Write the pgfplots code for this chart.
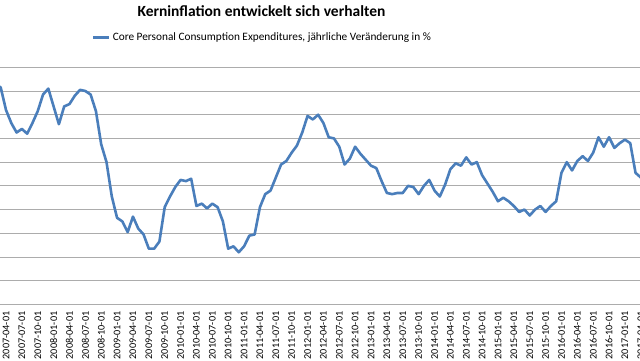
\documentclass[border=0pt]{standalone}
\usepackage{pgfplots}
\usepackage{pgfplotstable}
\pgfplotsset{compat=1.18}
\usepackage{fontspec}
\setmainfont{Carlito}
\definecolor{pceblue}{RGB}{74,126,187}
\definecolor{gridgray}{RGB}{172,172,172}
\pgfplotstableread{
m v
-2 2.46
-1 2.43
0 2.24
1 2.13
2 2.05
3 2.08
4 2.04
5 2.13
6 2.23
7 2.37
8 2.42
9 2.27
10 2.12
11 2.27
12 2.29
13 2.36
14 2.41
15 2.40
16 2.37
17 2.23
18 1.95
19 1.80
20 1.51
21 1.33
22 1.30
23 1.21
24 1.34
25 1.24
26 1.19
27 1.07
28 1.07
29 1.13
30 1.42
31 1.51
32 1.59
33 1.65
34 1.64
35 1.66
36 1.43
37 1.45
38 1.41
39 1.45
40 1.42
41 1.30
42 1.07
43 1.09
44 1.04
45 1.09
46 1.18
47 1.19
48 1.42
49 1.53
50 1.56
51 1.67
52 1.78
53 1.81
54 1.88
55 1.94
56 2.05
57 2.19
58 2.16
59 2.20
60 2.13
61 2.01
62 2.00
63 1.93
64 1.78
65 1.83
66 1.93
67 1.87
68 1.82
69 1.77
70 1.75
71 1.64
72 1.54
73 1.53
74 1.54
75 1.54
76 1.60
77 1.59
78 1.53
79 1.60
80 1.65
81 1.56
82 1.51
83 1.61
84 1.74
85 1.79
86 1.77
87 1.84
88 1.78
89 1.80
90 1.69
91 1.62
92 1.55
93 1.47
94 1.50
95 1.47
96 1.43
97 1.38
98 1.40
99 1.35
100 1.40
101 1.43
102 1.38
103 1.43
104 1.47
105 1.71
106 1.80
107 1.73
108 1.81
109 1.85
110 1.81
111 1.88
112 2.01
113 1.93
114 2.01
115 1.92
116 1.96
117 1.99
118 1.96
119 1.71
120 1.67
121 1.66
}\pcedata
\begin{document}
\begin{tikzpicture}[x=1pt,y=1pt]
\useasboundingbox (0,0) rectangle (640,360);
\clip (0,0) rectangle (640,360);
\begin{axis}[
  at={(0pt,55.6pt)}, anchor=south west,
  scale only axis, width=651.4pt, height=237.1pt,
  xmin=-1.134, xmax=122, ymin=0.6, ymax=2.6,
  axis x line*=bottom, axis y line*=left,
  x axis line style={gridgray, line width=0.9pt, -},
  y axis line style={draw=none},
  ytick={0.8,1.0,...,2.61},
  yticklabels={},
  ytick style={draw=none},
  ymajorgrids,
  grid style={gridgray, line width=0.9pt},
  xtick={0,3,...,120},
  xticklabels={2007-04-01,2007-07-01,2007-10-01,2008-01-01,2008-04-01,2008-07-01,2008-10-01,2009-01-01,2009-04-01,2009-07-01,2009-10-01,2010-01-01,2010-04-01,2010-07-01,2010-10-01,2011-01-01,2011-04-01,2011-07-01,2011-10-01,2012-01-01,2012-04-01,2012-07-01,2012-10-01,2013-01-01,2013-04-01,2013-07-01,2013-10-01,2014-01-01,2014-04-01,2014-07-01,2014-10-01,2015-01-01,2015-04-01,2015-07-01,2015-10-01,2016-01-01,2016-04-01,2016-07-01,2016-10-01,2017-01-01,2017-04-01},
  major x tick style={draw=none},
  xticklabel style={rotate=90, anchor=east, inner sep=0pt, font=\fontsize{10.2}{12}\selectfont},
  xticklabel shift=7.0pt,
  extra x ticks={-0.5,2.5,...,121},
  extra x tick labels={},
  extra x tick style={tick align=outside, major tick length=3.5pt, tick style={gridgray, line width=0.9pt}},
  title={\bfseries Kerninflation entwickelt sich verhalten},
  title style={at={(axis description cs:0.4014,1.191)}, anchor=base, font=\fontsize{15.5}{18}\selectfont},
  legend style={at={(axis description cs:0.1412,1.1257)}, anchor=west, draw=none, fill=none, inner sep=0pt, font=\fontsize{11.3}{13}\selectfont},
  legend image code/.code={\draw[#1] (0pt,0pt) -- (16pt,0pt);},
]
\addplot[pceblue, line width=2.6pt, line join=round] table[x=m, y=v] {\pcedata};
\addlegendentry{Core Personal Consumption Expenditures, jährliche Veränderung in \%}
\end{axis}
\end{tikzpicture}
\end{document}
